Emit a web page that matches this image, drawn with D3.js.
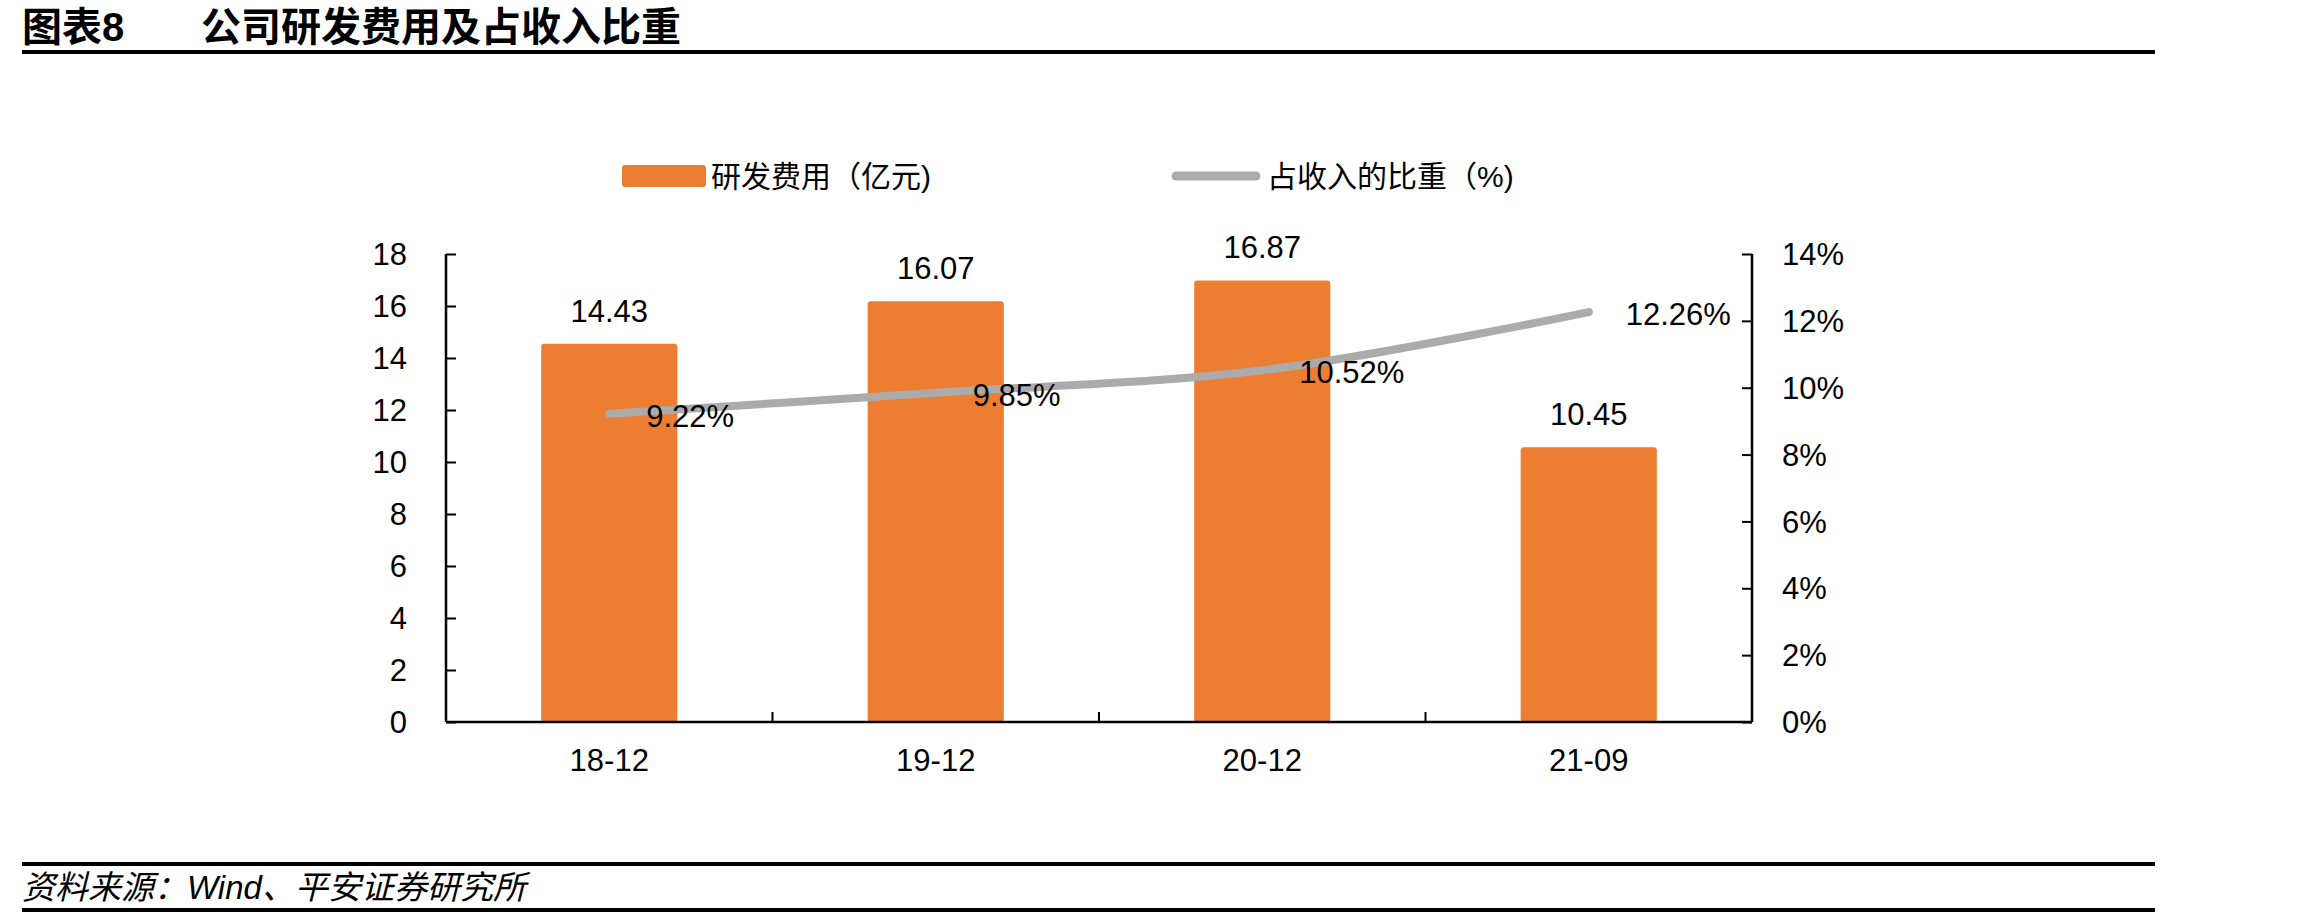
<!DOCTYPE html>
<html>
<head>
<meta charset="utf-8">
<script src="https://cdn.jsdelivr.net/npm/d3@7"></script>
<style>
  body { margin: 0; background: #fff; }
  svg { display: block; }
  text { font-family: "Liberation Sans", Arial, "Noto Sans CJK SC", sans-serif; fill: #000; }
  .cjk { font-family: "Liberation Sans", "Noto Sans CJK SC", sans-serif; }
</style>
</head>
<body>
<div id="chart"></div>
<script>
// data
var categories = ["18-12", "19-12", "20-12", "21-09"];
var rdCost = [14.43, 16.07, 16.87, 10.45];       // 研发费用（亿元）
var rdRatio = [9.22, 9.85, 10.52, 12.26];        // 占收入的比重（%）
var leftTicks = [0, 2, 4, 6, 8, 10, 12, 14, 16, 18];
var rightTicks = [0, 2, 4, 6, 8, 10, 12, 14];

var W = 2302, H = 921;
var svg = d3.select("#chart").append("svg")
	.attr("width", W)
	.attr("height", H);

// title + rule
svg.append("text")
	.attr("class", "cjk")
	.attr("x", 22).attr("y", 41)
	.attr("font-size", 40).attr("font-weight", "bold")
	.text("图表8");
svg.append("text")
	.attr("class", "cjk")
	.attr("x", 201).attr("y", 41)
	.attr("font-size", 40).attr("font-weight", "bold")
	.text("公司研发费用及占收入比重");
svg.append("line")
	.attr("x1", 22).attr("x2", 2155)
	.attr("y1", 52).attr("y2", 52)
	.attr("stroke", "#000").attr("stroke-width", 4);

// footer
svg.append("line")
	.attr("x1", 22).attr("x2", 2155)
	.attr("y1", 864).attr("y2", 864)
	.attr("stroke", "#000").attr("stroke-width", 4);
svg.append("text")
	.attr("class", "cjk")
	.attr("x", 22).attr("y", 899)
	.attr("font-size", 33).attr("font-style", "italic")
	.text("资料来源：Wind、平安证券研究所");
svg.append("line")
	.attr("x1", 22).attr("x2", 2155)
	.attr("y1", 910).attr("y2", 910)
	.attr("stroke", "#000").attr("stroke-width", 4);

// plot area
var pLeft = 446, pRight = 1752, pTop = 254, pBottom = 722;
var fs = 31;

var x = d3.scaleBand()
	.domain(categories)
	.range([pLeft, pRight])
	.paddingInner(0.583)
	.paddingOuter(0.2915);
var yL = d3.scaleLinear().domain([0, 18]).range([pBottom, pTop]);
var yR = d3.scaleLinear().domain([0, 14]).range([pBottom, pTop]);

// bars
var bars = categories.map(function(c, i) { return {cat: c, v: rdCost[i]}; });
svg.selectAll("rect.bar")
	.data(bars)
	.enter().append("rect")
	.attr("class", "bar")
	.attr("x", function(d) { return x(d.cat); })
	.attr("y", function(d) { return yL(d.v) - 3; })
	.attr("width", x.bandwidth())
	.attr("height", function(d) { return pBottom - yL(d.v) + 3; })
	.attr("rx", 3)
	.attr("fill", "#ED7D31");

svg.selectAll("text.barlab")
	.data(bars)
	.enter().append("text")
	.attr("class", "barlab")
	.attr("x", function(d) { return x(d.cat) + x.bandwidth()/2; })
	.attr("y", function(d) { return yL(d.v) - 25; })
	.attr("text-anchor", "middle")
	.attr("font-size", fs)
	.text(function(d) { return d.v.toFixed(2); });

// axes
var axL = svg.append("g")
	.attr("transform", "translate(" + pLeft + ",0)")
	.call(d3.axisRight(yL).tickValues(leftTicks).tickSize(10).tickFormat(""));
var axR = svg.append("g")
	.attr("transform", "translate(" + pRight + ",0)")
	.call(d3.axisLeft(yR).tickValues(rightTicks).tickSize(10).tickFormat(""));
[axL, axR].forEach(function(g) {
	g.select(".domain").attr("stroke", "#000").attr("stroke-width", 2.5)
		.attr("d", "M0," + pTop + "V" + pBottom);
	g.selectAll(".tick line").attr("stroke", "#000").attr("stroke-width", 2);
});

svg.selectAll("text.ltick")
	.data(leftTicks)
	.enter().append("text")
	.attr("class", "ltick")
	.attr("x", 407)
	.attr("y", function(d) { return yL(d); })
	.attr("dy", "0.36em")
	.attr("text-anchor", "end")
	.attr("font-size", fs)
	.text(function(d) { return d; });

svg.selectAll("text.rtick")
	.data(rightTicks)
	.enter().append("text")
	.attr("class", "rtick")
	.attr("x", 1782)
	.attr("y", function(d) { return yR(d); })
	.attr("dy", "0.36em")
	.attr("font-size", fs)
	.text(function(d) { return d + "%"; });

// x axis with ticks between categories
svg.append("line")
	.attr("x1", pLeft).attr("x2", pRight)
	.attr("y1", pBottom).attr("y2", pBottom)
	.attr("stroke", "#000").attr("stroke-width", 2.5);
var step = x.step();
svg.selectAll("line.xtick")
	.data(categories.slice(1))
	.enter().append("line")
	.attr("class", "xtick")
	.attr("x1", function(d) { return x(d) + x.bandwidth()/2 - step/2; })
	.attr("x2", function(d) { return x(d) + x.bandwidth()/2 - step/2; })
	.attr("y1", pBottom).attr("y2", pBottom - 10)
	.attr("stroke", "#000").attr("stroke-width", 2);
svg.selectAll("text.xlab")
	.data(categories)
	.enter().append("text")
	.attr("class", "xlab")
	.attr("x", function(d) { return x(d) + x.bandwidth()/2; })
	.attr("y", 771)
	.attr("text-anchor", "middle")
	.attr("font-size", fs)
	.text(function(d) { return d; });

// ratio line
var pts = categories.map(function(c, i) { return {cat: c, v: rdRatio[i]}; });
var line = d3.line()
	.x(function(d) { return x(d.cat) + x.bandwidth()/2; })
	.y(function(d) { return yR(d.v); })
	.curve(d3.curveCatmullRom.alpha(0.5));
svg.append("path")
	.datum(pts)
	.attr("d", line)
	.attr("fill", "none")
	.attr("stroke", "#ABABAB")
	.attr("stroke-width", 8)
	.attr("stroke-linecap", "round");

svg.selectAll("text.linelab")
	.data(pts)
	.enter().append("text")
	.attr("class", "linelab")
	.attr("x", function(d) { return x(d.cat) + x.bandwidth()/2 + 37; })
	.attr("y", function(d) { return yR(d.v) + 2; })
	.attr("dy", "0.36em")
	.attr("font-size", fs)
	.text(function(d) { return d.v.toFixed(2) + "%"; });

// legend
svg.append("rect")
	.attr("x", 622).attr("y", 165)
	.attr("width", 84).attr("height", 22)
	.attr("rx", 3)
	.attr("fill", "#ED7D31");
svg.append("text")
	.attr("class", "cjk")
	.attr("x", 711).attr("y", 176)
	.attr("dy", "0.36em")
	.attr("font-size", 30)
	.text("研发费用（亿元)");
svg.append("line")
	.attr("x1", 1176).attr("x2", 1256)
	.attr("y1", 176).attr("y2", 176)
	.attr("stroke", "#ABABAB").attr("stroke-width", 9)
	.attr("stroke-linecap", "round");
svg.append("text")
	.attr("class", "cjk")
	.attr("x", 1267).attr("y", 176)
	.attr("dy", "0.36em")
	.attr("font-size", 30)
	.text("占收入的比重（%)");
</script>
</body>
</html>
